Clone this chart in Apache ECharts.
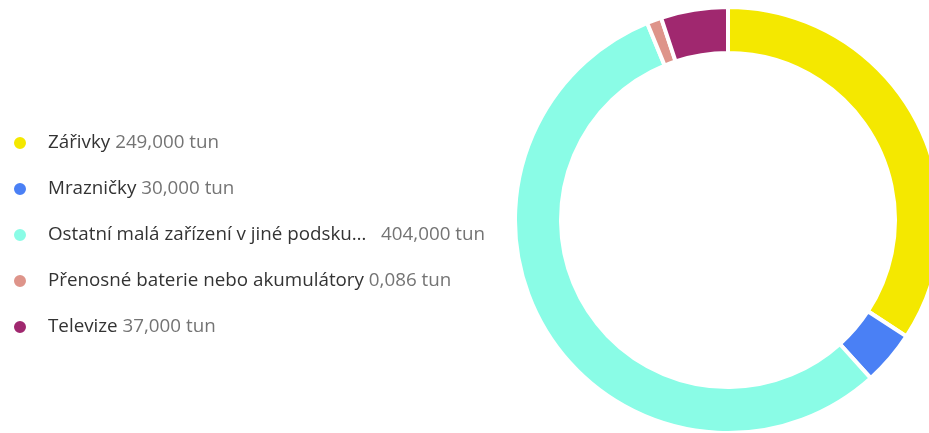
<!DOCTYPE html>
<html>
<head>
<meta charset="utf-8">
<script src="https://cdn.jsdelivr.net/npm/echarts@6/dist/echarts.min.js"></script>
<style>
  html, body { margin: 0; padding: 0; background: #fff; }
  #chart { width: 929px; height: 433px; }
</style>
</head>
<body>
<div id="chart"></div>
<script>
// kategorie a hodnoty (tuny)
const categories = [
  "Zářivky",
  "Mrazničky",
  "Ostatní malá zařízení v jiné podskupině",
  "Přenosné baterie nebo akumulátory",
  "Televize",
];
const values = [249, 30, 404, 0.086, 37];
const colors = ["#F4E800", "#4A80F5", "#8AFCE6", "#DE948A", "#A0286F"];

const maxNameLen = 35;

function fmtTun(v) {
  return v.toFixed(3).replace(".", ",") + " tun";
}

const chart = echarts.init(document.getElementById("chart"), null, { renderer: "canvas" });

chart.setOption({
  animation: false,
  color: colors,
  legend: {
    orient: "vertical",
    left: 7,
    top: 128,
    icon: "circle",
    itemWidth: 14,
    itemHeight: 14,
    itemGap: 26,
    selectedMode: false,
    textStyle: {
      fontFamily: "'Open Sans', sans-serif",
      fontSize: 18,
      lineHeight: 20,
      rich: {
        n: { color: "#333", fontSize: 18.8, padding: [0, 0, 0, 16], fontFamily: "'Open Sans', sans-serif" },
        v: { color: "#747474", fontSize: 18.8, fontFamily: "'Open Sans', sans-serif" },
      },
    },
    formatter: function (name) {
      const i = categories.indexOf(name);
      let label = name;
      let sep = " ";
      if (name.length > maxNameLen) {
        label = name.slice(0, maxNameLen).trimEnd() + "…";
        sep = "   ";
      }
      return "{n|" + label + sep + "}{v|" + fmtTun(values[i]) + "}";
    },
  },
  series: [
    {
      type: "pie",
      center: [728, 220],
      radius: [167, 213],
      startAngle: 90,
      clockwise: true,
      minAngle: 4,
      avoidLabelOverlap: false,
      label: { show: false },
      labelLine: { show: false },
      emphasis: { disabled: true },
      itemStyle: { borderColor: "#fff", borderWidth: 4 },
      data: categories.map((name, i) => ({ name, value: values[i] })),
    },
  ],
});
</script>
</body>
</html>
